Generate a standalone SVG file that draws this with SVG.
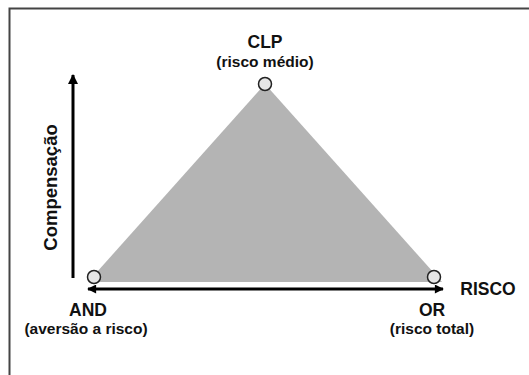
<svg xmlns="http://www.w3.org/2000/svg" width="529" height="375" viewBox="0 0 529 375">
<defs>
<style>
.t{font-family:"Liberation Sans",Arial,sans-serif;font-weight:bold;fill:#111;text-anchor:middle}
.big{font-size:17.5px}
.sm{font-size:15.5px}
.ax{stroke:#000;stroke-width:3;fill:none}
.node{fill:#e6e6e6;stroke:#222;stroke-width:1.5}
</style>
<marker id="ah" viewBox="0 0 10 10" refX="9" refY="5" markerWidth="10" markerHeight="9" markerUnits="userSpaceOnUse" orient="auto-start-reverse">
<path d="M0,0 L10,5 L0,10 Z" fill="#000"/>
</marker>
<marker id="av" viewBox="0 0 10 10" refX="9" refY="5" markerWidth="12" markerHeight="10" markerUnits="userSpaceOnUse" orient="auto">
<path d="M0,0 L10,5 L0,10 Z" fill="#000"/>
</marker>
</defs>
<rect width="529" height="375" fill="#fff"/>
<path d="M9.5,375 V8.5 H529" fill="none" stroke="#444" stroke-width="2"/>
<polygon points="265,84 88,282 442,282" fill="#b4b4b4"/>
<g id="connectors">
<line class="ax" x1="88" y1="289" x2="443" y2="289" marker-start="url(#ah)" marker-end="url(#ah)"/>
<line class="ax" x1="73" y1="278" x2="73" y2="75" marker-end="url(#av)"/>
</g>
<g id="clp">
<circle class="node" cx="265" cy="84" r="6.5"/>
<text class="t big" x="265" y="48">CLP</text>
<text class="t sm" x="265" y="67">(risco médio)</text>
</g>
<g id="and">
<circle class="node" cx="94" cy="277" r="6.5"/>
<text class="t big" x="88" y="316">AND</text>
<text class="t sm" x="86" y="334">(aversão a risco)</text>
</g>
<g id="or">
<circle class="node" cx="434" cy="277" r="6.5"/>
<text class="t big" x="432" y="316">OR</text>
<text class="t sm" x="432" y="334">(risco total)</text>
</g>
<text class="t big" x="488" y="295">RISCO</text>
<text class="t big" style="font-size:18.5px" transform="translate(56.5,187.5) rotate(-90)" x="0" y="0">Compensação</text>
</svg>
